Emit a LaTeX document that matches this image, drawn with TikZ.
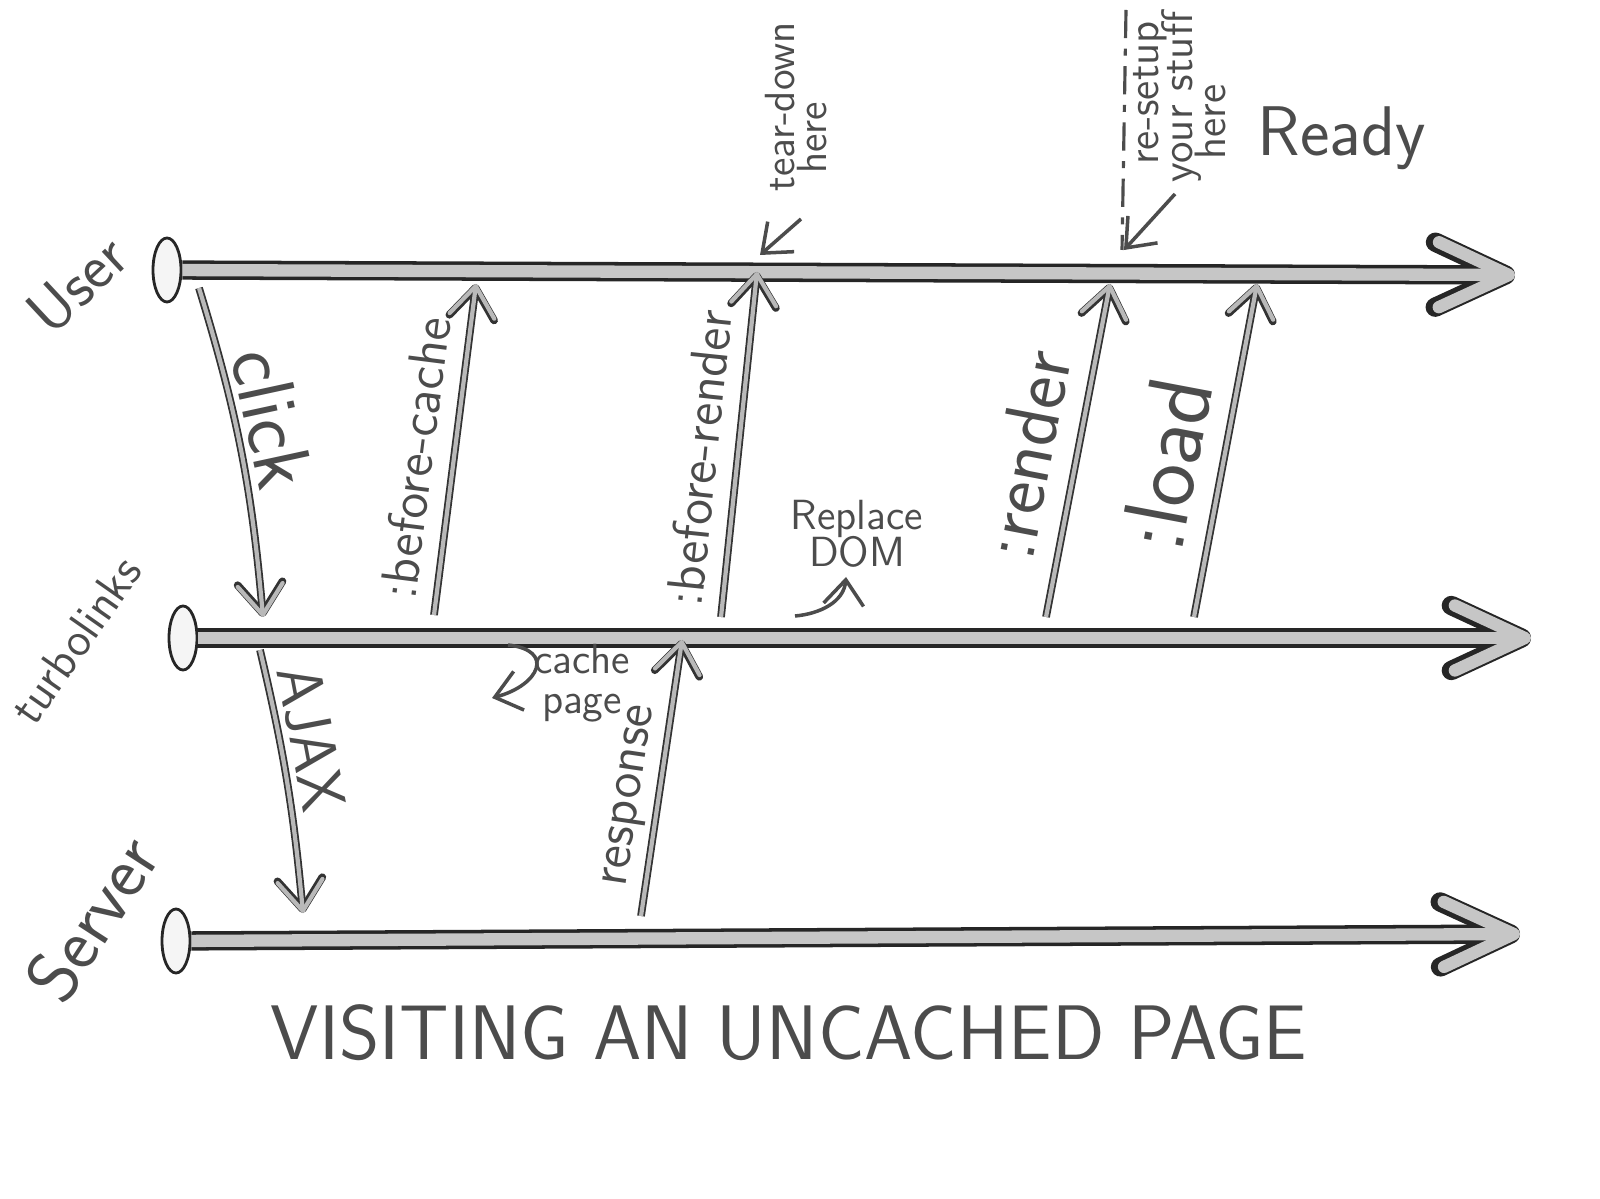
\documentclass[tikz,border=0pt]{standalone}
\usetikzlibrary{arrows.meta,shapes.geometric}
\tikzset{
  lane/.style={line width=3.5pt,draw=gray!45,-{Straight Barb[length=7mm,width=6.5mm,round]},
    preaction={draw=black!85,line width=5.5pt,-{Straight Barb[length=7mm,width=6.5mm,round]}}},
  knob/.style={ellipse,draw=black!85,line width=0.8pt,fill=gray!8,minimum width=2.8mm,minimum height=6.4mm,inner sep=0pt},
  msg/.style={line width=1.2pt,draw=gray!55,-{Straight Barb[length=3mm,width=4.5mm,round]},
    preaction={draw=black!80,line width=2.2pt,-{Straight Barb[length=3mm,width=4.5mm,round]}}},
  note/.style={line width=1pt,draw=gray!60!black,-{Straight Barb[length=2.5mm,width=4mm]}},
  lbl/.style={text=black!70,inner sep=2pt},
}
\newcommand{\hand}[1]{\sffamily\fontsize{#1}{1.2\dimexpr#1pt\relax}\selectfont}
\begin{document}
\begin{tikzpicture}
\useasboundingbox (0,0) rectangle (16,-11.99);
\node[knob] (user) at (1.67,-2.70) {};
\node[knob] (turbo) at (1.83,-6.38) {};
\node[knob] (server) at (1.76,-9.41) {};
\coordinate (userend) at (15.15,-2.75);
\coordinate (turboend) at (15.31,-6.38);
\coordinate (serverend) at (15.20,-9.34);
\draw[lane] (user) -- (userend);
\draw[lane] (turbo) -- (turboend);
\draw[lane] (server) -- (serverend);
\node[lbl,rotate=43,font=\hand{18}] (luser) at (0.77,-2.84) {User};
\node[lbl,rotate=55,font=\hand{13.5}] (lturbo) at (0.76,-6.40) {turbolinks};
\node[lbl,rotate=57,font=\hand{21}] (lserver) at (0.92,-9.18) {Server};
\coordinate (uclick) at (1.99,-2.88);
\coordinate (tclick) at (2.63,-6.17);
\coordinate (tcache) at (4.34,-6.15);
\coordinate (ucache) at (4.76,-2.84);
\coordinate (tbrender) at (7.21,-6.17);
\coordinate (ubrender) at (7.57,-2.72);
\coordinate (trender) at (10.46,-6.17);
\coordinate (urender) at (11.10,-2.84);
\coordinate (tload) at (11.94,-6.17);
\coordinate (uload) at (12.57,-2.84);
\coordinate (tajax) at (2.60,-6.50);
\coordinate (sajax) at (3.03,-9.13);
\coordinate (sresp) at (6.41,-9.16);
\coordinate (tresp) at (6.82,-6.40);
\draw[msg] (uclick) to[bend left=6] node[lbl,sloped,above,pos=0.42,font=\hand{23}] (lclick) {click} (tclick);
\draw[msg] (tcache) -- node[lbl,sloped,above=3pt,pos=0.46,font=\hand{15}] (lcache) {:before-cache} (ucache);
\draw[msg] (tbrender) -- node[lbl,sloped,above=3pt,pos=0.45,font=\hand{15}] (lbrender) {:before-render} (ubrender);
\draw[msg] (trender) -- node[lbl,sloped,above=4pt,pos=0.46,font=\hand{22}] (lrender) {:render} (urender);
\draw[msg] (tload) -- node[lbl,sloped,above=4pt,pos=0.43,font=\hand{26}] (lload) {:load} (uload);
\draw[msg] (tajax) to[bend left=4] node[lbl,sloped,above,pos=0.35,font=\hand{18}] (lajax) {AJAX} (sajax);
\draw[msg] (sresp) -- node[lbl,sloped,above,pos=0.42,font=\hand{15}] (lresp) {response} (tresp);
\node[lbl,rotate=90,font=\hand{12}] (ltear) at (7.80,-1.07) {tear-down};
\node[lbl,rotate=90,font=\hand{12}] (lhere) at (8.12,-1.38) {here};
\coordinate (teartail) at (8.01,-2.19);
\coordinate (teartip) at (7.60,-2.55);
\draw[note] (teartail) -- (teartip);
\node[lbl,rotate=90,font=\hand{12.5}] (lsetup) at (11.50,-0.93) {re-setup};
\node[lbl,rotate=90,font=\hand{12.5}] (lstuff) at (11.81,-0.97) {your stuff};
\node[lbl,rotate=90,font=\hand{12.5}] (lhere2) at (12.10,-1.22) {here};
\coordinate (dashtop) at (11.26,-0.10);
\coordinate (dashbot) at (11.22,-2.50);
\draw[gray!60!black,line width=0.9pt,dash pattern=on 8pt off 3pt on 2pt off 3pt] (dashtop) -- (dashbot);
\coordinate (setuptail) at (11.75,-1.94);
\coordinate (setuptip) at (11.24,-2.50);
\draw[note] (setuptail) -- (setuptip);
\node[lbl,font=\hand{20}] (lready) at (13.42,-1.38) {Ready};
\node[lbl,align=center,font=\hand{12}] (ldom) at (8.57,-5.34) {Replace\\[-4pt]DOM};
\coordinate (domtail) at (7.95,-6.16);
\coordinate (domtip) at (8.46,-5.77);
\draw[note] (domtail) to[out=5,in=-95] (domtip);
\node[lbl,align=center,font=\hand{12}] (lcpage) at (5.82,-6.83) {cache\\[-3pt]page};
\coordinate (cptail) at (5.08,-6.45);
\coordinate (cptip) at (4.92,-6.98);
\draw[note] (cptail) .. controls (5.55,-6.50) and (5.40,-6.85) .. (cptip);
\node[lbl,font=\hand{22}] (ltitle) at (7.89,-10.33) {VISITING AN UNCACHED PAGE};
\end{tikzpicture}
\end{document}
